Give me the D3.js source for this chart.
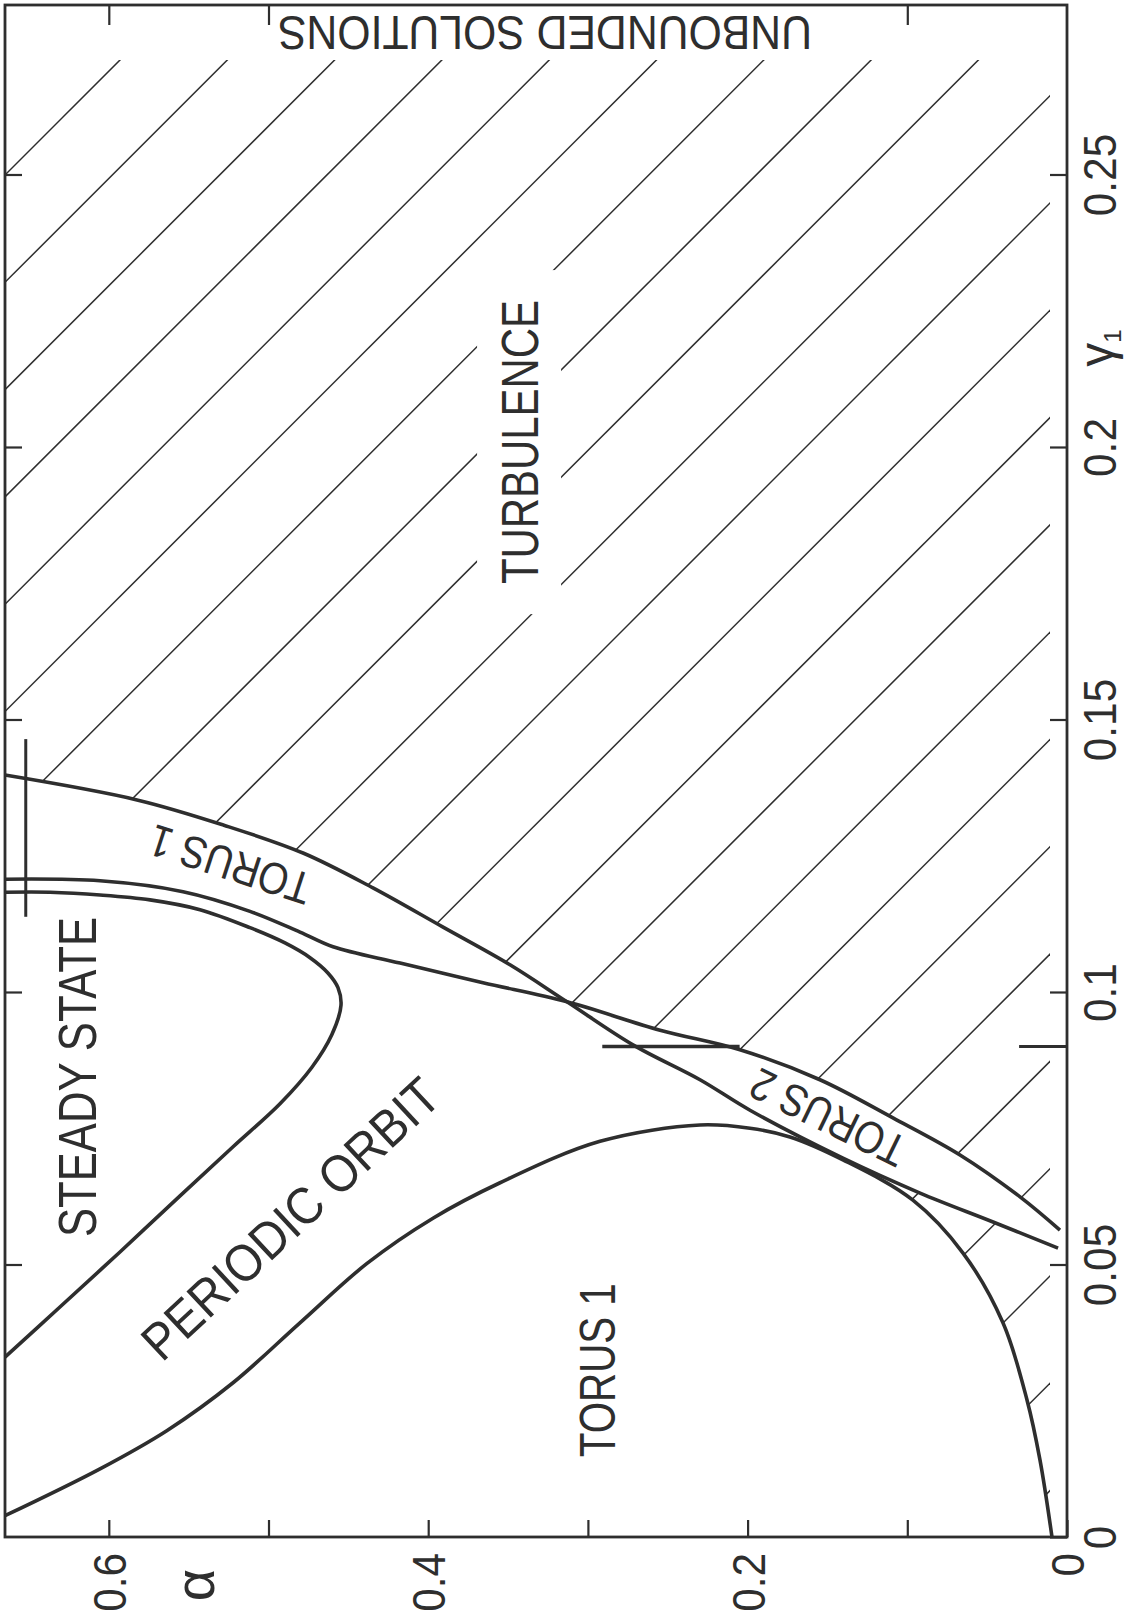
<!DOCTYPE html>
<html><head><meta charset="utf-8">
<script src="https://cdn.jsdelivr.net/npm/d3@7"></script>
<style>
html,body{margin:0;padding:0;background:#fff;}
svg{display:block;}
text{font-family:"Liberation Sans", Arial, sans-serif; fill:#2e2e2e;}
</style></head><body>
<svg id="chart" width="1147" height="1621"></svg>
<script>
// ---------- data (alpha, gamma1) ----------
const alphaTicks = [0, 0.1, 0.2, 0.3, 0.4, 0.5, 0.6];
const alphaLabelTicks = [0, 0.2, 0.4, 0.6];
const alphaLabels = ["0", "0.2", "0.4", "0.6"];
const alphaTopTicks = [0.1, 0.5, 0.6];
const gammaTicks = [0, 0.05, 0.1, 0.15, 0.2, 0.25];
const gammaLabels = ["0", "0.05", "0.1", "0.15", "0.2", "0.25"];
const gammaLongTick = [0.09, 0.03];               // gamma, alpha extent from right frame
const markerVertical = [0.652, 0.1138, 0.1464];   // alpha, gamma from, gamma to
const markerHorizontal = [0.09, 0.205, 0.291];    // gamma, alpha from, alpha to

// steady state / periodic orbit boundary
const steadyCurve = [[0.665,0.0330],[0.6306,0.0422],[0.5930,0.0523],[0.5554,0.0626],[0.5222,0.0716],[0.4928,0.0795],[0.4728,0.0862],[0.4603,0.0922],[0.4546,0.0976],[0.4565,0.1008],[0.4628,0.1035],[0.4740,0.1063],[0.4897,0.1090],[0.5116,0.1118],[0.5429,0.1151],[0.5742,0.1169],[0.6055,0.1178],[0.6368,0.1183],[0.665,0.1183]];
// periodic orbit / torus 1 boundary, continuing as upper edge of torus 2
const periodicCurve = [[0.665,0.1207],[0.6055,0.1204],[0.5535,0.1184],[0.5116,0.1148],[0.4803,0.1110],[0.4596,0.1083],[0.4176,0.1053],[0.3657,0.1017],[0.3131,0.0982],[0.2548,0.0930],[0.2048,0.0894],[0.1547,0.0839],[0.1090,0.0769],[0.0670,0.0701],[0.0294,0.0624],[0.0044,0.0563]];
// torus 1 / turbulence boundary, continuing as lower edge of torus 2
const torusOuterCurve = [[0.665,0.1398],[0.5817,0.1352],[0.5279,0.1306],[0.4784,0.1255],[0.4346,0.1191],[0.3907,0.1119],[0.3488,0.1050],[0.3131,0.0982],[0.2718,0.0903],[0.2298,0.0839],[0.1985,0.0783],[0.1403,0.0695],[0.0920,0.0631],[0.0463,0.0578],[0.0056,0.0530]];
// lower torus 1 region boundary
const torusLowerCurve = [[0.665,0.0039],[0.6055,0.0125],[0.5637,0.0195],[0.5222,0.0283],[0.4803,0.0393],[0.4383,0.0502],[0.3970,0.0585],[0.3550,0.0650],[0.2924,0.0726],[0.2298,0.0756],[0.1985,0.0750],[0.1735,0.0734],[0.1403,0.0692],[0.0965,0.0618],[0.0651,0.0521],[0.0401,0.0393],[0.0250,0.0251],[0.0169,0.0141],[0.0094,0]];

const regionNames = ["UNBOUNDED SOLUTIONS","TURBULENCE","STEADY STATE","PERIODIC ORBIT","TORUS 1","TORUS 1","TORUS 2"];

// ---------- scales ----------
const svg = d3.select("#chart");
const x = d3.scaleLinear().domain([0, 0.665]).range([1067, 5]);
const y = d3.scaleLinear().domain([0, 0.2811]).range([1537, 5]);
const ink = "#2e2e2e";

const line = d3.line().x(d => x(d[0])).y(d => y(d[1])).curve(d3.curveCatmullRom.alpha(0.5));

// ---------- hatching (turbulence region) ----------
const cross = torusOuterCurve.findIndex(d => d[0] === 0.3131);
const crossB = periodicCurve.findIndex(d => d[0] === 0.3131);
const mergeA = torusOuterCurve.findIndex(d => d[0] === 0.1403);
const mergeC = torusLowerCurve.findIndex(d => d[0] === 0.1403);
const L = s => s.replace(/^M/, "L");
const turbD = `M${x(0.665)},${y(0.2811)}L${x(0)},${y(0.2811)}L${x(0)},${y(0)}`
  + L(line(torusLowerCurve.slice(mergeC).reverse()))
  + L(line(torusOuterCurve.slice(mergeA)))
  + L(line(periodicCurve.slice(crossB).reverse()))
  + L(line(torusOuterCurve.slice(0, cross + 1).reverse())) + "Z";

const defs = svg.append("defs");
defs.append("clipPath").attr("id", "turbClip").append("path").attr("d", turbD);
defs.append("clipPath").attr("id", "insetClip").append("rect")
  .attr("x", x(0.665)).attr("y", 60).attr("width", 1050 - x(0.665)).attr("height", y(0) - 60);
const mask = defs.append("mask").attr("id", "textGap").attr("maskUnits", "userSpaceOnUse")
  .attr("x", 0).attr("y", 0).attr("width", 1147).attr("height", 1621);
mask.append("rect").attr("x", 0).attr("y", 0).attr("width", 1147).attr("height", 1621).attr("fill", "#fff");
mask.append("rect").attr("x", x(0.3431) - 42).attr("y", y(0.2009) - 172).attr("width", 84).attr("height", 344).attr("fill", "#000");

const hatch = svg.append("g").attr("clip-path", "url(#turbClip)")
  .append("g").attr("clip-path", "url(#insetClip)").attr("mask", "url(#textGap)");
const hatchIdx = d3.range(0, 23);
hatch.selectAll("line").data(hatchIdx).join("line")
  .attr("x1", k => 180 + 107.3 * k - 1700).attr("y1", 1700)
  .attr("x2", k => 180 + 107.3 * k + 100).attr("y2", -100)
  .attr("stroke", ink).attr("stroke-width", 1.5);

// ---------- curves ----------
[steadyCurve, periodicCurve, torusOuterCurve, torusLowerCurve].forEach(c => {
  svg.append("path").attr("d", line(c)).attr("fill", "none")
    .attr("stroke", ink).attr("stroke-width", 3.6).attr("stroke-linejoin", "round");
});

// markers
svg.append("line").attr("x1", x(markerVertical[0])).attr("x2", x(markerVertical[0]))
  .attr("y1", y(markerVertical[1])).attr("y2", y(markerVertical[2]))
  .attr("stroke", ink).attr("stroke-width", 3);
svg.append("line").attr("y1", y(markerHorizontal[0])).attr("y2", y(markerHorizontal[0]))
  .attr("x1", x(markerHorizontal[1])).attr("x2", x(markerHorizontal[2]))
  .attr("stroke", ink).attr("stroke-width", 3.4);
svg.append("line").attr("y1", y(gammaLongTick[0])).attr("y2", y(gammaLongTick[0]))
  .attr("x1", x(0)).attr("x2", x(gammaLongTick[1]))
  .attr("stroke", ink).attr("stroke-width", 2.8);

// ---------- frame & axes ----------
svg.append("rect").attr("x", x(0.665)).attr("y", y(0.2811))
  .attr("width", x(0) - x(0.665)).attr("height", y(0) - y(0.2811))
  .attr("fill", "none").attr("stroke", ink).attr("stroke-width", 2.8);

function styleAxis(g) {
  g.select(".domain").remove();
  g.selectAll(".tick line").attr("stroke", ink).attr("stroke-width", 2.2);
  g.attr("font-family", null).attr("font-size", null);
}

const axB = svg.append("g").attr("transform", `translate(0,${y(0)})`)
  .call(d3.axisBottom(x).tickValues(alphaTicks).tickSizeInner(-17).tickSizeOuter(0)
    .tickFormat(d => { const i = alphaLabelTicks.indexOf(d); return i >= 0 ? alphaLabels[i] : ""; }));
styleAxis(axB);
axB.selectAll(".tick text").attr("x", 0).attr("y", 0).attr("dy", "0.36em")
  .attr("text-anchor", "end").attr("transform", "translate(0,16) rotate(-90) scale(0.92,1)")
  .style("font-size", "46px").attr("fill", ink);

const axR = svg.append("g").attr("transform", `translate(${x(0)},0)`)
  .call(d3.axisRight(y).tickValues(gammaTicks).tickSizeInner(-17).tickSizeOuter(0)
    .tickFormat((d, i) => gammaLabels[i]));
styleAxis(axR);
axR.selectAll(".tick text").attr("x", 0).attr("y", 0).attr("dy", "0.36em")
  .attr("text-anchor", "middle").attr("transform", "translate(32,0) rotate(-90) scale(0.92,1)")
  .style("font-size", "46px").attr("fill", ink);

const axL = svg.append("g").attr("transform", `translate(${x(0.665)},0)`)
  .call(d3.axisLeft(y).tickValues(gammaTicks.slice(1)).tickSizeInner(-17).tickSizeOuter(0).tickFormat(""));
styleAxis(axL);
const axT = svg.append("g").attr("transform", `translate(0,${y(0.2811)})`)
  .call(d3.axisTop(x).tickValues(alphaTopTicks).tickSizeInner(-20).tickSizeOuter(0).tickFormat(""));
styleAxis(axT);

// axis titles
svg.append("text").attr("transform", `translate(199,1585) rotate(-90)`)
  .attr("text-anchor", "middle").attr("dy", "0.26em").style("font-size", "56px").text("α");
const gt = svg.append("text").attr("transform", `translate(1113,348) rotate(-90)`)
  .attr("text-anchor", "middle").style("font-size", "48px");
gt.append("tspan").text("γ");
gt.append("tspan").attr("dy", 8).style("font-size", "24px").text("1");

// ---------- region labels ----------
function label(txt, a, g, angle, fs, len) {
  svg.append("text")
    .attr("transform", `translate(${x(a)},${y(g)}) rotate(${angle})`)
    .attr("text-anchor", "middle").attr("dy", "0.36em")
    .attr("textLength", len).attr("lengthAdjust", "spacingAndGlyphs")
    .style("font-size", fs + "px").text(txt);
}
label(regionNames[0], 0.3269, 0.2760, 180, 48, 534);
label(regionNames[1], 0.3431, 0.2009, -90, 52, 284);
label(regionNames[2], 0.6205, 0.0844, -90, 54, 320);
label(regionNames[3], 0.4865, 0.0585, -43, 52, 385);
label(regionNames[4], 0.2943, 0.0306, -90, 50, 174);
label(regionNames[5], 0.5241, 0.1233, 198, 45, 167);
label(regionNames[6], 0.1497, 0.0769, 206, 45, 167);
</script>
</body></html>
